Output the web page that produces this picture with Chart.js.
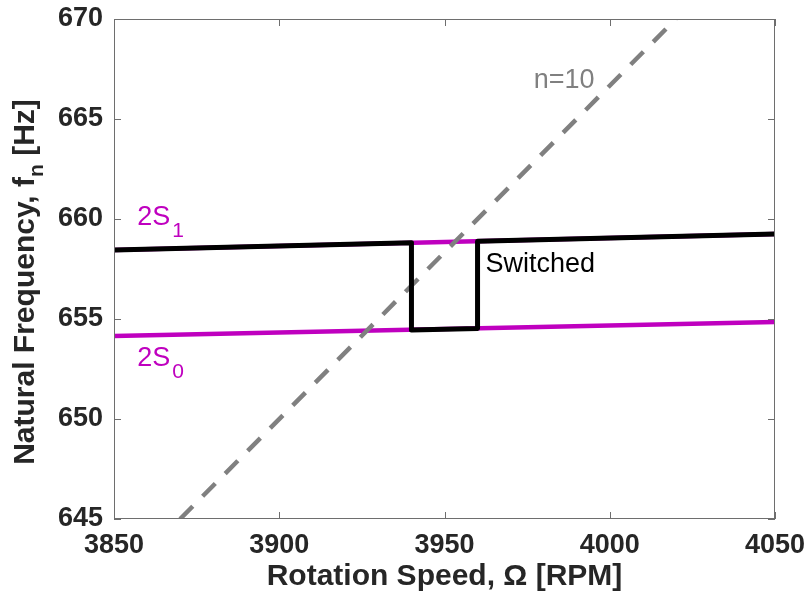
<!DOCTYPE html>
<html>
<head>
<meta charset="utf-8">
<script src="https://cdn.jsdelivr.net/npm/chart.js@4/dist/chart.umd.min.js"></script>
<style>
  html, body { margin: 0; padding: 0; background: #fff; }
  #wrap { width: 808px; height: 595px; }
</style>
</head>
<body>
<div id="wrap"><canvas id="myChart" width="808" height="595"></canvas></div>
<script>
// axis ticks
const rpmTicks = [3850, 3900, 3950, 4000, 4050];
const freqTicks = [645, 650, 655, 660, 665, 670];

// 2S0 and 2S1 branches
const s0Rpm = [3850, 4050];
const s0Freq = [654.15, 654.85];
const s1Rpm = [3850, 4050];
const s1Freq = [658.45, 659.25];

// tracked mode that jumps between the branches
const switchedRpm = [3850, 3940, 3940, 3960, 3960, 4050];
const switchedFreq = [658.45, 658.81, 654.45, 654.52, 658.89, 659.25];

// n=10 excitation order
const orderRpm = [3870, 4020];
const orderFreq = [645, 670];

const MAGENTA = 'rgb(191, 0, 191)';
const GREY = 'rgb(128, 128, 128)';
const FONT = '"Liberation Sans", Arial, sans-serif';

function toPoints(xs, ys) {
    return xs.map((x, i) => ({ x: x, y: ys[i] }));
}

// text labels placed in data coordinates: [text, subscript, x, y, colour]
const notes = [
    ['2S', '1', 3857, 659.7, MAGENTA],
    ['2S', '0', 3857, 652.65, MAGENTA],
    ['Switched', '', 3962.4, 657.35, '#000'],
    ['n=10', '', 3977, 666.55, GREY]
];

const framePlugin = {
    id: 'frame',
    afterDatasetsDraw(chart) {
        const ctx = chart.ctx;
        const a = chart.chartArea;
        const xs = chart.scales.x;
        const ys = chart.scales.y;
        ctx.save();
        ctx.strokeStyle = 'rgb(110, 110, 110)';
        ctx.lineWidth = 1;
        // box
        ctx.strokeRect(a.left + 0.5, a.top + 0.5, a.right - a.left - 1, a.bottom - a.top - 1);
        // inward tick marks on all four sides
        const tl = 7;
        ctx.beginPath();
        rpmTicks.forEach(v => {
            const px = Math.round(xs.getPixelForValue(v)) + 0.5;
            ctx.moveTo(px, a.bottom); ctx.lineTo(px, a.bottom - tl);
            ctx.moveTo(px, a.top); ctx.lineTo(px, a.top + tl);
        });
        freqTicks.forEach(v => {
            const py = Math.round(ys.getPixelForValue(v)) + 0.5;
            ctx.moveTo(a.left, py); ctx.lineTo(a.left + tl, py);
            ctx.moveTo(a.right, py); ctx.lineTo(a.right - tl, py);
        });
        ctx.stroke();

        // annotations with subscripts
        ctx.textBaseline = 'alphabetic';
        ctx.textAlign = 'left';
        notes.forEach(([txt, sub, x, y, col]) => {
            const px = xs.getPixelForValue(x);
            const py = ys.getPixelForValue(y);
            ctx.fillStyle = col;
            ctx.font = '27px ' + FONT;
            ctx.fillText(txt, px, py);
            if (sub) {
                const w = ctx.measureText(txt).width;
                ctx.font = '21px ' + FONT;
                ctx.fillText(sub, px + w + 2, py + 12);
            }
        });

        // axis titles
        ctx.fillStyle = 'rgb(38, 38, 38)';
        ctx.font = 'bold 30px ' + FONT;
        ctx.textAlign = 'center';
        ctx.fillText('Rotation Speed, \u03A9 [RPM]', (a.left + a.right) / 2, 585);

        const partA = 'Natural Frequency, f';
        const partB = 'n';
        const partC = ' [Hz]';
        ctx.font = 'bold 30px ' + FONT;
        const wA = ctx.measureText(partA).width;
        const wC = ctx.measureText(partC).width;
        ctx.font = 'bold 21px ' + FONT;
        const wB = ctx.measureText(partB).width;
        const total = wA + wB + wC;
        ctx.translate(34, (a.top + a.bottom) / 2 + 13);
        ctx.rotate(-Math.PI / 2);
        ctx.textAlign = 'left';
        let cx = -total / 2;
        ctx.font = 'bold 30px ' + FONT;
        ctx.fillText(partA, cx, 0);
        cx += wA;
        ctx.font = 'bold 21px ' + FONT;
        ctx.fillText(partB, cx, 9);
        cx += wB;
        ctx.font = 'bold 30px ' + FONT;
        ctx.fillText(partC, cx, 0);
        ctx.restore();
    }
};

const ctx = document.getElementById('myChart').getContext('2d');
const freqChart = new Chart(ctx, {
    type: 'line',
    data: {
        datasets: [
            {
                label: 'Switched',
                data: toPoints(switchedRpm, switchedFreq),
                borderColor: '#000',
                borderWidth: 5,
                borderJoinStyle: 'round',
                order: 0
            },
            {
                label: 'n=10',
                data: toPoints(orderRpm, orderFreq),
                borderColor: GREY,
                borderWidth: 4.5,
                borderDash: [18, 14],
                borderCapStyle: 'butt',
                order: 1
            },
            {
                label: '2S1',
                data: toPoints(s1Rpm, s1Freq),
                borderColor: MAGENTA,
                borderWidth: 4.5,
                order: 2
            },
            {
                label: '2S0',
                data: toPoints(s0Rpm, s0Freq),
                borderColor: MAGENTA,
                borderWidth: 4.5,
                order: 2
            }
        ]
    },
    options: {
        responsive: false,
        animation: false,
        devicePixelRatio: 1,
        layout: { padding: { left: 0, top: 19, right: 33, bottom: 0 } },
        elements: {
            point: { radius: 0 },
            line: { tension: 0, fill: false }
        },
        datasets: { line: { clip: 0 } },
        plugins: {
            legend: { display: false },
            tooltip: { enabled: false }
        },
        scales: {
            x: {
                type: 'linear',
                min: 3850,
                max: 4050,
                afterBuildTicks: s => { s.ticks = rpmTicks.map(v => ({ value: v })); },
                afterFit: s => {
                    s.height = 76;
                    s.paddingLeft = 0;
                    s.paddingRight = 0;
                },
                grid: { display: false, drawTicks: false },
                border: { display: false },
                ticks: {
                    padding: 10,
                    maxRotation: 0,
                    color: 'rgb(38, 38, 38)',
                    font: { family: FONT, size: 27, weight: 'bold' },
                    callback: v => String(v)
                }
            },
            y: {
                type: 'linear',
                min: 645,
                max: 670,
                afterBuildTicks: s => { s.ticks = freqTicks.map(v => ({ value: v })); },
                afterFit: s => {
                    s.width = 114;
                    s.paddingTop = 0;
                    s.paddingBottom = 0;
                },
                grid: { display: false, drawTicks: false },
                border: { display: false },
                ticks: {
                    padding: 11,
                    color: 'rgb(38, 38, 38)',
                    font: { family: FONT, size: 27, weight: 'bold' },
                    callback: v => String(v)
                }
            }
        }
    },
    plugins: [framePlugin]
});
</script>
</body>
</html>
